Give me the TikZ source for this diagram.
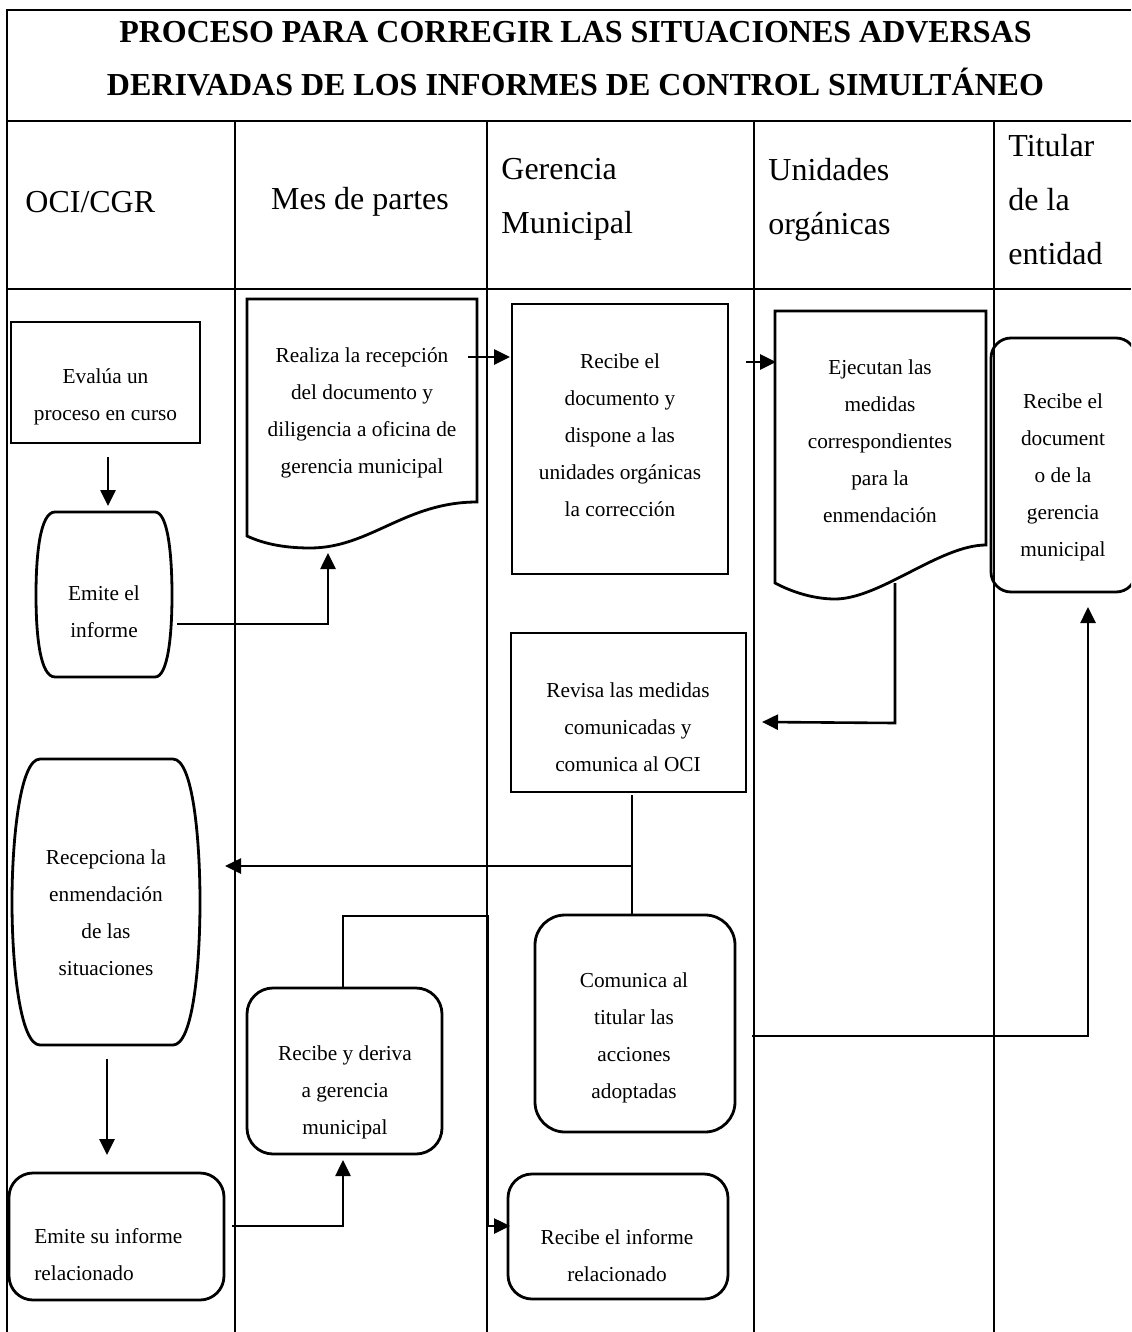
\documentclass[tikz,border=0pt]{standalone}
\usepackage{fontspec}
\setmainfont{Liberation Serif}
\usetikzlibrary{arrows.meta}
\tikzset{
  tbl/.style={line width=1pt},
  shp/.style={draw, line width=1.4pt},
  conn/.style={line width=1.3pt},
  arr/.style={conn, -{Triangle[length=8pt,width=7.5pt]}},
  txt/.style={align=center, inner sep=0pt, font=\fontsize{10.65pt}{18.5pt}\selectfont},
  hdr/.style={align=left, inner sep=0pt, font=\fontsize{16pt}{27pt}\selectfont},
  ttl/.style={align=center, inner sep=0pt, font=\fontsize{16pt}{26.5pt}\selectfont\bfseries},
  boxn/.style={shp, inner sep=0pt},
}
\begin{document}
\begin{tikzpicture}[x=0.5pt, y=-0.5pt]
\useasboundingbox (0,0) rectangle (1131,1332);
\clip (0,0) rectangle (1131,1332);
\fill[white] (0,0) rectangle (1131,1332);

% ---------- table ----------
\draw[tbl] (6,10) -- (1131,10);
\draw[tbl] (6,121) -- (1131,121);
\draw[line width=1.4pt] (6,289) -- (1131,289);
\draw[tbl] (7,10) -- (7,1332);
\foreach \cx in {235,487,754,994} \draw[tbl] (\cx,121) -- (\cx,1332);

\node[ttl] (title) at (575.5,58.5) {PROCESO PARA CORREGIR LAS SITUACIONES ADVERSAS\\DERIVADAS DE LOS INFORMES DE CONTROL SIMULTÁNEO};

\node[hdr, anchor=west] (h1) at (25,202) {OCI/CGR};
\node[hdr, anchor=center] (h2) at (360,202) {Mes de partes};
\node[hdr, anchor=west] (h3) at (501,199.5) {Gerencia\\Municipal};
\node[hdr, anchor=west] (h4) at (768,199.5) {Unidades\\orgánicas};
\node[hdr, anchor=west] (h5) at (1008,199.5) {Titular\\de la\\entidad};

% ---------- shapes ----------
% Evalua (rectangle)
\node[boxn, minimum width=94.5pt, minimum height=60.5pt] (evalua) at (105.5,382.5) {};
\node[txt] (evalua-t) at (105.5,397) {Evalúa un\\proceso en curso};

% Emite el informe (barrel)
\draw[shp] (55,512) -- (155,512) .. controls (168,512) and (172,555) .. (172,595)
  .. controls (172,635) and (168,677) .. (155,677) -- (55,677)
  .. controls (40,677) and (36,635) .. (36,595)
  .. controls (36,555) and (40,512) .. (55,512) -- cycle;
\node[txt] (emite) at (104,611.5) {Emite el\\informe};

% Realiza (document)
\draw[shp] (247,299) -- (477,299) -- (477,502)
  .. controls (405,502) and (370,548) .. (310,548)
  .. controls (282,548) and (262,543) .. (247,536) -- cycle;
\node[txt] (realiza) at (362,412.5) {Realiza la recepción\\del documento y\\diligencia a oficina de\\gerencia municipal};

% Recibe el documento (rectangle)
\node[boxn, minimum width=108pt, minimum height=135pt] (recibe) at (620,439) {};
\node[txt] (recibe-t) at (620,435) {Recibe el\\documento y\\dispone a las\\unidades orgánicas\\la corrección};

% Ejecutan (document)
\draw[shp] (775,311) -- (986,311) -- (986,545)
  .. controls (940,545) and (880,599) .. (835,599)
  .. controls (812,599) and (790,591) .. (775,583) -- cycle;
\node[txt] (ejecutan) at (880,441) {Ejecutan las\\medidas\\correspondientes\\para la\\enmendación};

% Titular (rounded)
\draw[shp, rounded corners=10pt] (991,338) rectangle (1136,592);
\node[txt] (titular) at (1063,477) {Recibe el\\document\\o de la\\gerencia\\municipal};

% Revisa (rectangle)
\node[boxn, minimum width=117.5pt, minimum height=79.5pt] (revisa) at (628.5,712.5) {};
\node[txt] (revisa-t) at (628,727) {Revisa las medidas\\comunicadas y\\comunica al OCI};

% Recepciona (barrel)
\draw[shp] (40,759) -- (173,759) .. controls (193,759) and (200,840) .. (200,902)
  .. controls (200,965) and (193,1045) .. (173,1045) -- (40,1045)
  .. controls (20,1045) and (12,965) .. (12,902)
  .. controls (12,840) and (20,759) .. (40,759) -- cycle;
\node[txt] (recepciona) at (106,912.5) {Recepciona la\\enmendación\\de las\\situaciones};

% Comunica al titular (rounded)
\node[boxn, rounded corners=15pt, minimum width=100pt, minimum height=108.5pt] (comunica) at (635,1023.5) {};
\node[txt] (comunica-t) at (634,1037.5) {Comunica al\\titular las\\acciones\\adoptadas};

% Recibe y deriva (rounded)
\node[boxn, rounded corners=13pt, minimum width=97.5pt, minimum height=83pt] (deriva) at (344.5,1071) {};
\begin{scope}
\clip (247,988) rectangle (442,1153);
\node[txt] (deriva-t) at (345,1092) {Recibe y deriva\\a gerencia\\municipal};
\end{scope}

% Emite su informe relacionado (rounded)
\node[boxn, rounded corners=12pt, minimum width=107.5pt, minimum height=63.5pt] (emitesu) at (116.5,1236.5) {};
\node[txt, align=left, anchor=west] (emitesu-t) at (34,1255) {Emite su informe\\relacionado};

% Recibe el informe relacionado (rounded)
\node[boxn, rounded corners=12pt, minimum width=110pt, minimum height=62.5pt] (informe) at (618,1236.5) {};
\node[txt] (informe-t) at (617,1255.5) {Recibe el informe\\relacionado};

% ---------- connector points ----------
\coordinate (a1) at (108,457);  \coordinate (a2) at (108,506);
\coordinate (b1) at (177,624);  \coordinate (b2) at (328,624);  \coordinate (b3) at (328,553);
\coordinate (c1) at (468,357);  \coordinate (c2) at (510,357);
\coordinate (d1) at (746,362);  \coordinate (d2) at (776,362);
\coordinate (e1) at (895,583);  \coordinate (e2) at (895,723);  \coordinate (e3) at (762,722);
\coordinate (f1) at (632,795);  \coordinate (f2) at (632,866);  \coordinate (f3) at (225,866);
\coordinate (f4) at (632,915);
\coordinate (g1) at (752,1036); \coordinate (g2) at (1088,1036); \coordinate (g3) at (1088,607);
\coordinate (h1c) at (107,1059); \coordinate (h2c) at (107,1155);
\coordinate (i1) at (232,1226); \coordinate (i2) at (343,1226); \coordinate (i3) at (343,1160);
\coordinate (j1) at (343,988);  \coordinate (j2) at (343,916);  \coordinate (j3) at (488,916);
\coordinate (j4) at (488,1226); \coordinate (j5) at (510,1226);

% ---------- connectors ----------
\draw[arr] (a1) -- (a2);
\draw[arr] (b1) -- (b2) -- (b3);
\draw[arr] (c1) -- (c2);
\draw[arr] (d1) -- (d2);
\draw[arr] (e1) -- (e2) -- (e3);
\draw[arr] (f1) -- (f2) -- (f3);
\draw[conn] (f2) -- (f4);
\draw[arr] (g1) -- (g2) -- (g3);
\draw[arr] (h1c) -- (h2c);
\draw[arr] (i1) -- (i2) -- (i3);
\draw[arr] (j1) -- (j2) -- (j3) -- (j4) -- (j5);
\end{tikzpicture}
\end{document}
